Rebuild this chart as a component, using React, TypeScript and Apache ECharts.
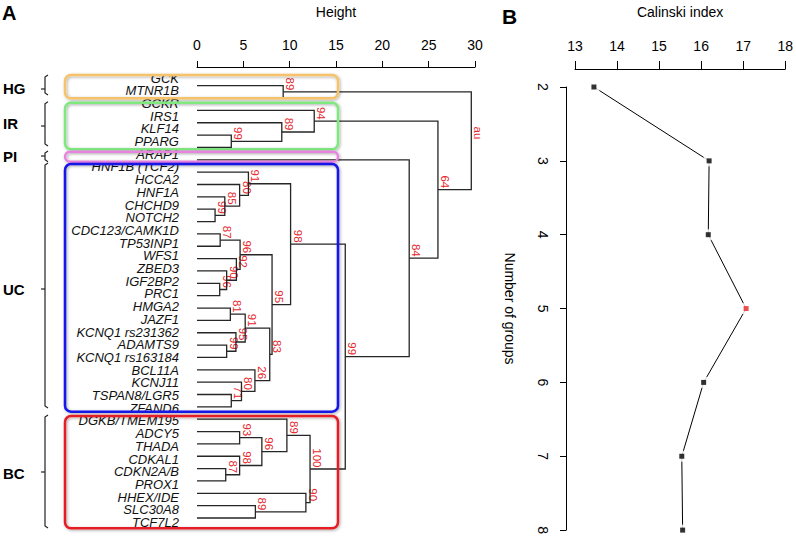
import React, { useEffect, useRef } from "react";
import * as echarts from "echarts";

// ---------- Panel A: dendrogram data ----------
const leaves = [
  "GCK", "MTNR1B", "GCKR", "IRS1", "KLF14", "PPARG", "ARAP1",
  "HNF1B (TCF2)", "HCCA2", "HNF1A", "CHCHD9", "NOTCH2", "CDC123/CAMK1D",
  "TP53INP1", "WFS1", "ZBED3", "IGF2BP2", "PRC1", "HMGA2", "JAZF1",
  "KCNQ1 rs231362", "ADAMTS9", "KCNQ1 rs163184", "BCL11A", "KCNJ11",
  "TSPAN8/LGR5", "ZFAND6", "DGKB/TMEM195", "ADCY5", "THADA", "CDKAL1",
  "CDKN2A/B", "PROX1", "HHEX/IDE", "SLC30A8", "TCF7L2",
];

// each merge joins two children: a leaf name or the index of an earlier merge
const mergeLeft: (string | number)[] = [
  "GCK", "KLF14", "IRS1", "GCKR", "CHCHD9", "HNF1A", "HCCA2", "HNF1B (TCF2)",
  "CDC123/CAMK1D", "IGF2BP2", "ZBED3", "WFS1", 8, "HMGA2", "ADAMTS9",
  "KCNQ1 rs231362", 13, "TSPAN8/LGR5", "KCNJ11", "BCL11A", 16, 12, 7,
  "ADCY5", "CDKN2A/B", "CDKAL1", 23, "DGKB/TMEM195", "SLC30A8", "HHEX/IDE",
  27, 22, "ARAP1", 3, 0,
];
const mergeRight: (string | number)[] = [
  "MTNR1B", "PPARG", 1, 2, "NOTCH2", 4, 5, 6,
  "TP53INP1", "PRC1", 9, 10, 11, "JAZF1", "KCNQ1 rs163184",
  14, 15, "ZFAND6", 17, 18, 19, 20, 21,
  "THADA", "PROX1", 24, 25, 26, "TCF7L2", 28,
  29, 30, 31, 32, 33,
];
const mergeHeight = [
  9.3, 3.7, 9.15, 12.65, 1.95, 3.0, 4.6, 5.55,
  2.5, 2.45, 3.2, 4.25, 4.65, 3.6, 3.2,
  4.2, 5.2, 3.7, 4.8, 6.25, 7.85, 8.1, 10.1,
  4.6, 3.1, 4.6, 7.0, 9.7, 6.3, 11.75,
  12.2, 16.0, 22.9, 26.0, 29.6,
];
const mergeLabel = [
  "89", "99", "89", "94", "99", "85", "80", "91",
  "87", "96", "90", "92", "96", "81", "99",
  "95", "91", "71", "80", "26", "83", "95", "98",
  "93", "87", "98", "96", "89", "89", "90",
  "100", "99", "84", "64", "au",
];

// ---------- Panel B: Calinski index ----------
const groupCounts = [2, 3, 4, 5, 6, 7, 8];
const calinski = [13.45, 16.19, 16.17, 17.07, 16.06, 15.54, 15.56];
const bestGroups = 5;

// cluster annotations
const clusterNames = ["HG", "IR", "PI", "UC", "BC"];
const clusterColors = ["#f6c36a", "#7fe87f", "#e884df", "#1414e6", "#e61e26"];

// build the dendrogram segments from the merge lists
type Node = { h: number; y: number };
const nodes: Node[] = [];
const segData: number[][] = [];
const ref = (r: string | number): Node =>
  typeof r === "string" ? { h: 0, y: leaves.indexOf(r) } : nodes[r];
mergeHeight.forEach((h, i) => {
  const a = ref(mergeLeft[i]);
  const b = ref(mergeRight[i]);
  const mid = (a.y + b.y) / 2;
  nodes.push({ h, y: mid });
  segData.push([a.h, a.y, b.h, b.y, h, mid, i]);
});

const FONT = '"Liberation Sans", Arial, sans-serif';

export default function App() {
  const ref2 = useRef<HTMLDivElement>(null);
  useEffect(() => {
    if (!ref2.current) return;
    const chart = echarts.init(ref2.current, undefined, { renderer: "svg" });

    // layout constants for annotations (pixels)
    const boxTop = [75, 102.7, 151.7, 164, 416];
    const boxBottom = [98.3, 149.3, 161.7, 411.7, 528.3];
    const brTop = [75, 101.7, 151, 163, 415];
    const brBottom = [95, 146, 161.7, 408, 528];
    const brMid = [89, 126, 156, 289, 472];
    const labelY = [88, 123, 156, 289, 473];

    const graphics: any[] = [];
    clusterNames.forEach((name, i) => {
      graphics.push({
        type: "rect",
        z: 50,
        shape: { x: 65, y: boxTop[i], width: 273, height: boxBottom[i] - boxTop[i], r: 6 },
        style: {
          fill: "none",
          stroke: clusterColors[i],
          lineWidth: 2.5,
          shadowBlur: 3,
          shadowColor: "rgba(0,0,0,0.35)",
          shadowOffsetX: 1,
          shadowOffsetY: 1,
        },
      });
      graphics.push({
        type: "polyline",
        z: 50,
        shape: {
          points: [
            [48, brTop[i]],
            [45, brTop[i] + 2],
            [45, brBottom[i] - 2],
            [48, brBottom[i]],
          ],
        },
        style: { stroke: "#222", lineWidth: 1.2, fill: "none" },
      });
      graphics.push({
        type: "line",
        z: 50,
        shape: { x1: 45, y1: brMid[i], x2: 41, y2: brMid[i] },
        style: { stroke: "#222", lineWidth: 1.2 },
      });
      graphics.push({
        type: "text",
        z: 50,
        x: 3,
        y: labelY[i],
        style: {
          text: name,
          fill: "#000",
          font: `bold 15px ${FONT}`,
          align: "left",
          verticalAlign: "middle",
        },
      });
    });
    graphics.push({
      type: "text",
      x: 2,
      y: 3,
      style: { text: "A", fill: "#000", font: `bold 20px ${FONT}`, verticalAlign: "top" },
    });
    graphics.push({
      type: "text",
      x: 502,
      y: 6,
      style: { text: "B", fill: "#000", font: `bold 21px ${FONT}`, verticalAlign: "top" },
    });

    const axisText = { color: "#000", fontFamily: FONT, fontSize: 14 };

    chart.setOption({
      animation: false,
      backgroundColor: "#fff",
      grid: [
        { left: 197, right: 321, top: 82.7, bottom: 19 },
        { left: 575, right: 9.3, top: 86, bottom: 5 },
        { left: 197, right: 321, top: 78, bottom: 14.5 },
      ],
      xAxis: [
        {
          type: "value",
          gridIndex: 0,
          position: "top",
          min: 0,
          max: 30,
          interval: 5,
          offset: 18.7,
          name: "Height",
          nameLocation: "middle",
          nameGap: 48,
          nameTextStyle: { ...axisText },
          axisLine: { show: true, onZero: false, lineStyle: { color: "#000", width: 1 } },
          axisTick: { show: true, length: 6, lineStyle: { color: "#000" } },
          axisLabel: { ...axisText, margin: 15 },
          splitLine: { show: false },
        },
        {
          type: "value",
          gridIndex: 1,
          position: "top",
          min: 13,
          max: 18,
          interval: 1,
          offset: 18,
          name: "Calinski index",
          nameLocation: "middle",
          nameGap: 50,
          nameTextStyle: { ...axisText },
          axisLine: { show: true, onZero: false, lineStyle: { color: "#000", width: 1 } },
          axisTick: { show: true, length: 8, lineStyle: { color: "#000" } },
          axisLabel: { ...axisText, margin: 16 },
          splitLine: { show: false },
        },
        {
          type: "value",
          gridIndex: 2,
          min: 0,
          max: 30,
          show: false,
        },
      ],
      yAxis: [
        {
          type: "value",
          gridIndex: 0,
          min: 0,
          max: 35,
          inverse: true,
          show: false,
        },
        {
          type: "category",
          gridIndex: 2,
          position: "left",
          data: leaves,
          inverse: true,
          boundaryGap: false,
          axisLine: { show: false, onZero: false },
          axisTick: { show: false },
          splitLine: { show: false },
          axisLabel: {
            interval: 0,
            margin: 18,
            color: "#111",
            fontFamily: FONT,
            fontStyle: "italic",
            fontSize: 13,
            lineHeight: 12,
          },
        },
        {
          type: "value",
          gridIndex: 1,
          min: 2,
          max: 8,
          interval: 1,
          inverse: true,
          offset: 9,
          name: "Number of groups",
          nameLocation: "middle",
          nameRotate: -90,
          nameGap: 49,
          nameTextStyle: { ...axisText },
          axisLine: { show: true, onZero: false, lineStyle: { color: "#000", width: 1 } },
          axisTick: { show: true, length: 6, lineStyle: { color: "#000" } },
          axisLabel: { ...axisText, rotate: -90, margin: 16 },
          splitLine: { show: false },
        },
      ],
      series: [
        {
          type: "custom",
          xAxisIndex: 0,
          yAxisIndex: 0,
          data: segData,
          silent: true,
          renderItem: (params: any, api: any) => {
            const idx = api.value(6);
            const a = api.coord([api.value(0), api.value(1)]);
            const a2 = api.coord([api.value(4), api.value(1)]);
            const b2 = api.coord([api.value(4), api.value(3)]);
            const b = api.coord([api.value(2), api.value(3)]);
            const m = api.coord([api.value(4), api.value(5)]);
            return {
              type: "group",
              children: [
                {
                  type: "polyline",
                  shape: { points: [a, a2, b2, b] },
                  style: { stroke: "#262626", lineWidth: 1.3, fill: "none" },
                },
                {
                  type: "text",
                  x: m[0] + 1,
                  y: m[1] - 1.5,
                  rotation: -Math.PI / 2,
                  style: {
                    text: mergeLabel[idx],
                    fill: "#e5262c",
                    font: `11.5px ${FONT}`,
                    align: "right",
                    verticalAlign: "bottom",
                  },
                },
              ],
            };
          },
        },
        {
          type: "line",
          xAxisIndex: 1,
          yAxisIndex: 2,
          data: calinski.map((v, i) => [v, groupCounts[i]]),
          showSymbol: false,
          symbol: "none",
          lineStyle: { color: "#000", width: 1 },
          z: 2,
          silent: true,
        },
        {
          type: "scatter",
          xAxisIndex: 1,
          yAxisIndex: 2,
          data: calinski.map((v, i) => [v, groupCounts[i]]),
          symbol: "rect",
          symbolSize: 11,
          itemStyle: { color: "#fff" },
          z: 3,
          silent: true,
        },
        {
          type: "scatter",
          xAxisIndex: 1,
          yAxisIndex: 2,
          data: calinski.map((v, i) => [v, groupCounts[i]]),
          symbol: "rect",
          symbolSize: 5,
          itemStyle: {
            color: (p: any) => (p.data[1] === bestGroups ? "#e8262c" : "#000"),
          },
          z: 4,
          silent: true,
        },
      ],
      graphic: graphics,
    });

    return () => chart.dispose();
  }, []);

  return (
    <div
      ref={ref2}
      style={{ position: "absolute", left: 0, top: 0, width: 796, height: 537 }}
    />
  );
}
